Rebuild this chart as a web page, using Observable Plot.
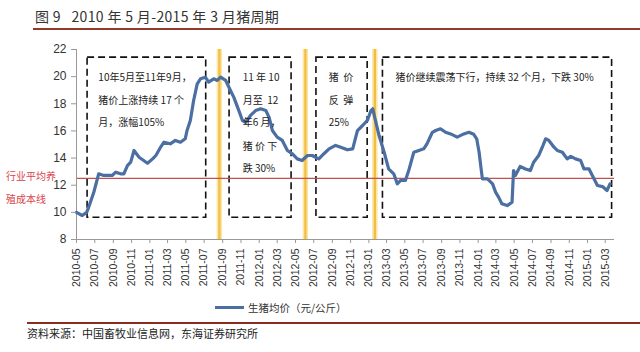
<!DOCTYPE html>
<html>
<head>
<meta charset="utf-8">
<script src="https://cdn.jsdelivr.net/npm/d3@7"></script>
<script src="https://cdn.jsdelivr.net/npm/@observablehq/plot@0.6"></script>
<style>
  html, body { margin: 0; padding: 0; background: #fff; }
  body { width: 640px; height: 352px; position: relative; overflow: hidden;
         font-family: "Noto Sans CJK SC", "Liberation Sans", sans-serif; color: #222; }
  .abs { position: absolute; white-space: pre; }
</style>
</head>
<body>
<div class="abs" id="title" style="left:35px; top:6px; font-size:14px; line-height:20px; color:#333; letter-spacing:0.35px;"></div>
<div class="abs" style="left:33px; top:28px; width:607px; height:2px; background:#8e3b2c;"></div>
<div class="abs" id="chart" style="left:0; top:32px;"></div>
<div class="abs" id="red1" style="left:6px; top:168px; font-size:10px; line-height:16px; color:#d9434a;"></div>
<div class="abs" id="red2" style="left:6px; top:191px; font-size:10px; line-height:16px; color:#d9434a;"></div>
<div class="abs" style="left:215px; top:306px; width:29px; height:3px; background:#4b6ea3;"></div>
<div class="abs" id="legend" style="left:248px; top:299px; font-size:10.5px; line-height:18px; color:#333;"></div>
<div class="abs" style="left:27px; top:322px; width:613px; height:2px; background:#8b2d22;"></div>
<div class="abs" id="caption" style="left:27px; top:324px; font-size:11px; line-height:18px; color:#222;"></div>
<script>
// ---- texts ----
const titleText = "图 9   2010 年 5 月-2015 年 3 月猪周期";
const seriesName = "生猪均价（元/公斤）";
const costLineLabel = ["行业平均养", "殖成本线"];
const captionText = "资料来源：中国畜牧业信息网，东海证券研究所";

// ---- series: pig price (yuan/kg) ----
const dates = [
  "2010-05-01","2010-05-20","2010-06-04","2010-06-11","2010-06-28","2010-07-14","2010-07-31","2010-08-28",
  "2010-09-09","2010-09-25","2010-10-06","2010-10-18","2010-10-29","2010-11-09","2010-11-26","2010-12-24",
  "2011-01-10","2011-01-21","2011-02-07","2011-02-17","2011-03-10","2011-03-27","2011-04-13","2011-04-29",
  "2011-05-05","2011-05-16","2011-05-27","2011-06-08","2011-06-19","2011-07-05","2011-07-16","2011-08-02",
  "2011-08-14","2011-08-25","2011-09-11","2011-09-27","2011-10-08","2011-10-25","2011-11-06","2011-11-17",
  "2011-12-03","2011-12-20","2012-01-06","2012-01-23","2012-02-03","2012-02-14","2012-03-01","2012-03-18",
  "2012-04-04","2012-04-20","2012-05-07","2012-05-23","2012-06-10","2012-06-26","2012-07-07","2012-07-18",
  "2012-08-04","2012-08-21","2012-09-12","2012-09-29","2012-10-21","2012-11-08","2012-11-24","2012-12-11",
  "2012-12-27","2013-01-08","2013-01-14","2013-01-19","2013-02-04","2013-02-21","2013-03-08","2013-03-25",
  "2013-04-06","2013-04-17","2013-05-03","2013-05-14","2013-05-31","2013-06-17","2013-07-03","2013-07-14",
  "2013-08-01","2013-08-12","2013-08-28","2013-09-14","2013-10-01","2013-10-23","2013-11-14","2013-12-01",
  "2013-12-17","2013-12-27","2014-01-04","2014-01-10","2014-01-15","2014-02-01","2014-02-18","2014-02-28",
  "2014-03-10","2014-03-21","2014-04-08","2014-04-24","2014-04-29","2014-05-05","2014-05-21","2014-06-08",
  "2014-06-24","2014-07-05","2014-07-22","2014-08-03","2014-08-14","2014-08-25","2014-09-11","2014-09-22",
  "2014-10-09","2014-10-25","2014-11-06","2014-11-22","2014-12-09","2014-12-20","2015-01-06","2015-01-17",
  "2015-02-03","2015-02-20","2015-03-07","2015-03-17"
];
const prices = [
  10.0, 9.77, 10.0, 10.4, 11.5, 12.84, 12.72, 12.72,
  12.96, 12.84, 12.84, 13.45, 13.7, 14.56, 14.06, 13.62,
  13.94, 14.19, 14.85, 15.17, 15.05, 15.3, 15.17, 15.42,
  16.03, 16.77, 18.24, 19.47, 19.84, 19.96, 19.6, 19.84,
  19.72, 19.96, 19.72, 18.98, 18.49, 17.5, 16.77, 16.64,
  17.14, 17.5, 17.63, 17.5, 17.0, 16.03, 15.54, 15.3,
  14.56, 14.32, 13.94, 13.82, 14.19, 14.19, 14.06, 13.94,
  14.32, 14.68, 14.93, 14.8, 14.61, 14.68, 16.03, 16.4,
  16.77, 17.5, 17.63, 17.14, 15.66, 14.43, 13.2, 12.84,
  12.1, 12.35, 12.35, 13.08, 14.43, 14.56, 14.68, 15.05,
  15.9, 16.03, 16.16, 15.9, 15.78, 15.54, 15.78, 15.9,
  15.75, 15.42, 14.43, 13.33, 12.47, 12.47, 12.1, 11.49,
  11.12, 10.63, 10.5, 10.75, 13.08, 12.72, 13.38, 13.2,
  13.08, 13.69, 14.19, 14.8, 15.42, 15.3, 14.8, 14.56,
  14.43, 13.94, 14.12, 13.94, 13.82, 13.2, 13.2, 12.72,
  11.98, 11.9, 11.61, 12.1
];

// ---- reference lines / phases ----
const costLine = 12.5;
const turningPoints = ["2011-08-21", "2012-06-03", "2013-01-21"];
const phaseStart = ["2010-06-07", "2011-09-24", "2012-07-10", "2013-02-17"];
const phaseEnd   = ["2011-07-08", "2012-04-18", "2012-12-28", "2015-03-24"];
const phaseTop = 21.4, phaseBottom = 9.6;

// ---- annotation text ----
const noteDates = ["2010-07-13","2010-07-13","2010-07-13",
                   "2011-11-07","2011-11-07","2011-11-07","2011-11-07","2011-11-07",
                   "2012-08-20","2012-08-20","2012-08-20",
                   "2013-03-31"];
const noteValues = [19.94, 18.24, 16.62,
                    19.94, 18.24, 16.62, 14.85, 13.23,
                    19.94, 18.24, 16.62,
                    19.94];
const noteTexts = ["10年5月至11年9月，", "猪价上涨持续 17 个", "月，涨幅105%",
                   "11 年 10", "月至  12", "年6 月，", "猪 价 下", "跌 30%",
                   "猪  价", "反  弹", "25%",
                   "猪价继续震荡下行，持续 32 个月，下跌 30%"];

// ---- axes ----
const xTickLabels = ["2010-05","2010-07","2010-09","2010-11",
  "2011-01","2011-03","2011-05","2011-07","2011-09","2011-11",
  "2012-01","2012-03","2012-05","2012-07","2012-09","2012-11",
  "2013-01","2013-03","2013-05","2013-07","2013-09","2013-11",
  "2014-01","2014-03","2014-05","2014-07","2014-09","2014-11",
  "2015-01","2015-03"];
const yTicks = [8, 10, 12, 14, 16, 18, 20, 22];
const xDomain = ["2010-05-01", "2015-04-01"];
const yDomain = [8, 22];

// ---- build ----
const D = s => new Date(s);
const series = dates.map((d, i) => ({date: D(d), price: prices[i]}));
const phases = phaseStart.map((s, i) => ({x1: D(s), x2: D(phaseEnd[i]), y1: phaseBottom, y2: phaseTop}));
const notes = noteTexts.map((t, i) => ({x: D(noteDates[i]), y: noteValues[i], text: t}));
const xTicks = xTickLabels.map(s => D(s + "-01"));
const fmt = d3.utcFormat("%Y-%m");

const chart = Plot.plot({
  width: 640,
  height: 260,
  marginTop: 17,
  marginBottom: 53,
  marginLeft: 76,
  marginRight: 26,
  style: {fontFamily: "'Liberation Sans', Arial, sans-serif", background: "transparent", color: "#333"},
  x: {type: "utc", domain: xDomain.map(D)},
  y: {domain: yDomain},
  marks: [
    Plot.ruleX(turningPoints.map(D), {stroke: "#fbe6a6", strokeWidth: 5.5}),
    Plot.ruleX(turningPoints.map(D), {stroke: "#f2bd42", strokeWidth: 2.2}),
    Plot.rect(phases, {x1: "x1", x2: "x2", y1: "y1", y2: "y2", fill: "none", stroke: "#111",
                       strokeWidth: 1.6, strokeDasharray: "7,4"}),
    Plot.ruleY([costLine], {stroke: "#c0504d", strokeWidth: 1.3}),
    Plot.ruleX([D(xDomain[0])], {stroke: "#999", strokeWidth: 1}),
    Plot.ruleY([yDomain[0]], {stroke: "#999", strokeWidth: 1}),
    Plot.lineY(series, {x: "date", y: "price", stroke: "#4b6ea3", strokeWidth: 3.2,
                        strokeLinejoin: "round", strokeLinecap: "round"}),
    Plot.text(notes, {x: "x", y: "y", text: "text", textAnchor: "start", fontSize: 10,
                      fill: "#222", fontFamily: "'Noto Sans CJK SC', sans-serif"}),
    Plot.axisY({ticks: yTicks, tickSize: 5, tickPadding: 5, fontSize: 12, label: null, stroke: "#999"}),
    Plot.axisX({ticks: xTicks, tickFormat: fmt, tickRotate: -90, tickSize: 4, tickPadding: 5,
                fontSize: 10.5, label: null, stroke: "#999"})
  ]
});
document.getElementById("chart").appendChild(chart);
document.getElementById("title").textContent = titleText;
document.getElementById("legend").textContent = seriesName;
document.getElementById("red1").textContent = costLineLabel[0];
document.getElementById("red2").textContent = costLineLabel[1];
document.getElementById("caption").textContent = captionText;
</script>
</body>
</html>
